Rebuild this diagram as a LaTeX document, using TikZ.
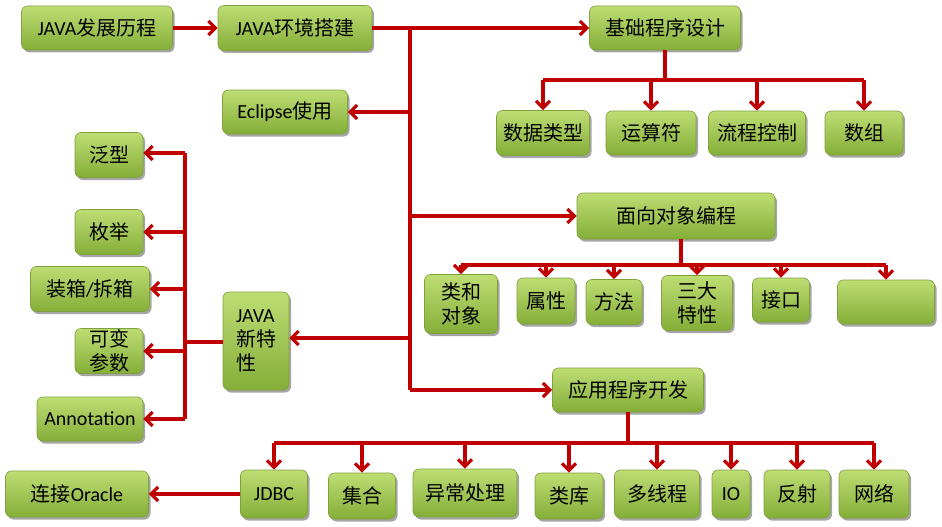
\documentclass[tikz,border=0pt]{standalone}
\usepackage{fontspec}
\setmainfont{Carlito}
\newfontfamily\cjk{Noto Sans CJK SC}
\usetikzlibrary{arrows.meta,shadows}
\definecolor{arrred}{HTML}{C00000}
\definecolor{boxtop}{HTML}{BEDD74}
\definecolor{boxbot}{HTML}{84AE38}
\definecolor{boxedge}{HTML}{7FA03C}
\newcommand{\cj}[1]{{\cjk #1}}
\tikzset{
  box/.style={rounded corners=6pt, draw=boxedge, line width=0.6pt,
    top color=boxtop, bottom color=boxbot,
    drop shadow={shadow xshift=2pt,shadow yshift=-2.5pt,opacity=0.35,fill=black},
    inner sep=0pt, align=center, text=black,
    font=\fontsize{20}{24}\selectfont},
  ln/.style={draw=arrred, line width=3.2pt},
  arr/.style={draw=arrred, line width=3.2pt, -{Straight Barb[length=7pt,width=14pt]}},
}
\begin{document}
\begin{tikzpicture}[x=1pt,y=-1pt]
\useasboundingbox (0,0) rectangle (942,527);
% top row
\node[box,minimum width=151pt,minimum height=44pt] (hist) at (97,28) {JAVA\cj{发展历程}};
\node[box,minimum width=154pt,minimum height=45pt] (env) at (295,28) {JAVA\cj{环境搭建}};
\node[box,minimum width=151pt,minimum height=44pt] (jc) at (665,28) {\cj{基础程序设计}};
\node[box,minimum width=125pt,minimum height=44pt] (ecl) at (285,112) {Eclipse\cj{使用}};
% basic children
\node[box,minimum width=93pt,minimum height=45pt] (c1) at (543,133) {\cj{数据类型}};
\node[box,minimum width=90pt,minimum height=44pt] (c2) at (651,133) {\cj{运算符}};
\node[box,minimum width=97pt,minimum height=44pt] (c3) at (757,133) {\cj{流程控制}};
\node[box,minimum width=78pt,minimum height=44pt] (c4) at (864,133) {\cj{数组}};
% OOP
\node[box,minimum width=198pt,minimum height=46pt] (oop) at (676,216) {\cj{面向对象编程}};
\node[box,minimum width=73pt,minimum height=59pt] (o1) at (461,304) {\cj{类和}\\\cj{对象}};
\node[box,minimum width=58pt,minimum height=46pt] (o2) at (546,301) {\cj{属性}};
\node[box,minimum width=56pt,minimum height=45pt] (o3) at (614,302) {\cj{方法}};
\node[box,minimum width=71pt,minimum height=55pt] (o4) at (697,303) {\cj{三大}\\\cj{特性}};
\node[box,minimum width=57pt,minimum height=44pt] (o5) at (781,300) {\cj{接口}};
\node[box,minimum width=97pt,minimum height=44pt] (o6) at (886,302) {};
% app
\node[box,minimum width=151pt,minimum height=44pt] (app) at (628,390) {\cj{应用程序开发}};
\node[box,minimum width=67pt,minimum height=48pt] (a1) at (274,494) {JDBC};
\node[box,minimum width=67pt,minimum height=46pt] (a2) at (362,496) {\cj{集合}};
\node[box,minimum width=104pt,minimum height=48pt] (a3) at (465,493) {\cj{异常处理}};
\node[box,minimum width=68pt,minimum height=46pt] (a4) at (569,496) {\cj{类库}};
\node[box,minimum width=85pt,minimum height=48pt] (a5) at (657,494) {\cj{多线程}};
\node[box,minimum width=38pt,minimum height=48pt] (a6) at (731,494) {IO};
\node[box,minimum width=66pt,minimum height=48pt] (a7) at (797,494) {\cj{反射}};
\node[box,minimum width=70pt,minimum height=48pt] (a8) at (874,494) {\cj{网络}};
\node[box,minimum width=143pt,minimum height=46pt] (ora) at (77,494) {\cj{连接}Oracle};
% new features
\node[box,minimum width=66pt,minimum height=98pt,align=left] (nf) at (256,341) {JAVA\\\cj{新特}\\\cj{性}};
\node[box,minimum width=68pt,minimum height=45pt] (f1) at (109,155) {\cj{泛型}};
\node[box,minimum width=68pt,minimum height=45pt] (f2) at (109,232) {\cj{枚举}};
\node[box,minimum width=119pt,minimum height=45pt] (f3) at (90,289) {\cj{装箱}/\cj{拆箱}};
\node[box,minimum width=68pt,minimum height=45pt] (f4) at (109,351) {\fontsize{20}{20}\selectfont\cj{可变}\\\cj{参数}};
\node[box,minimum width=106pt,minimum height=44pt] (f5) at (90,419) {Annotation};
% connectors
\coordinate (tt) at (410,28);
\coordinate (tb) at (410,390);
\draw[arr] (hist.east) -- (env.west);
\draw[arr] (env.east) -- (jc.west);
\draw[ln] (tt) -- (tb);
\draw[arr] (tt |- ecl.east) -- (ecl.east);
\draw[arr] (tt |- oop.west) -- (oop.west);
\draw[arr] (tt |- 0,338) -- (nf.east |- 0,338);
\draw[arr] (tb) -- (app.west);
% basic branch
\coordinate (b1) at (665,80);
\draw[ln] (jc.south) -- (b1);
\draw[ln] (c1 |- b1) -- (c4 |- b1);
\foreach \n in {c1,c2,c3,c4} \draw[arr] (\n |- b1) -- (\n.north);
% oop branch
\coordinate (b2) at (681,265);
\draw[ln] (oop.south -| b2) -- (b2);
\draw[ln] (o1 |- b2) -- (o6 |- b2);
\foreach \n in {o1,o2,o3,o4,o5,o6} \draw[arr] (\n |- b2) -- (\n.north);
% app branch
\coordinate (b3) at (628,443);
\draw[ln] (app.south) -- (b3);
\draw[ln] (a1 |- b3) -- (a8 |- b3);
\foreach \n in {a1,a2,a3,a4,a5,a6,a7,a8} \draw[arr] (\n |- b3) -- (\n.north);
\draw[arr] (a1.west) -- (ora.east);
% new features branch
\coordinate (b4) at (185,342);
\draw[ln,line width=4.5pt] (nf.west |- b4) -- (b4);
\draw[ln] (185,153) -- (185,419);
\draw[arr] (b4 |- 0,153) -- (f1.east |- 0,153);
\draw[arr] (b4 |- f2.east) -- (f2.east);
\draw[arr] (b4 |- f3.east) -- (f3.east);
\draw[arr] (b4 |- f4.east) -- (f4.east);
\draw[arr] (b4 |- f5.east) -- (f5.east);
\end{tikzpicture}
\end{document}
